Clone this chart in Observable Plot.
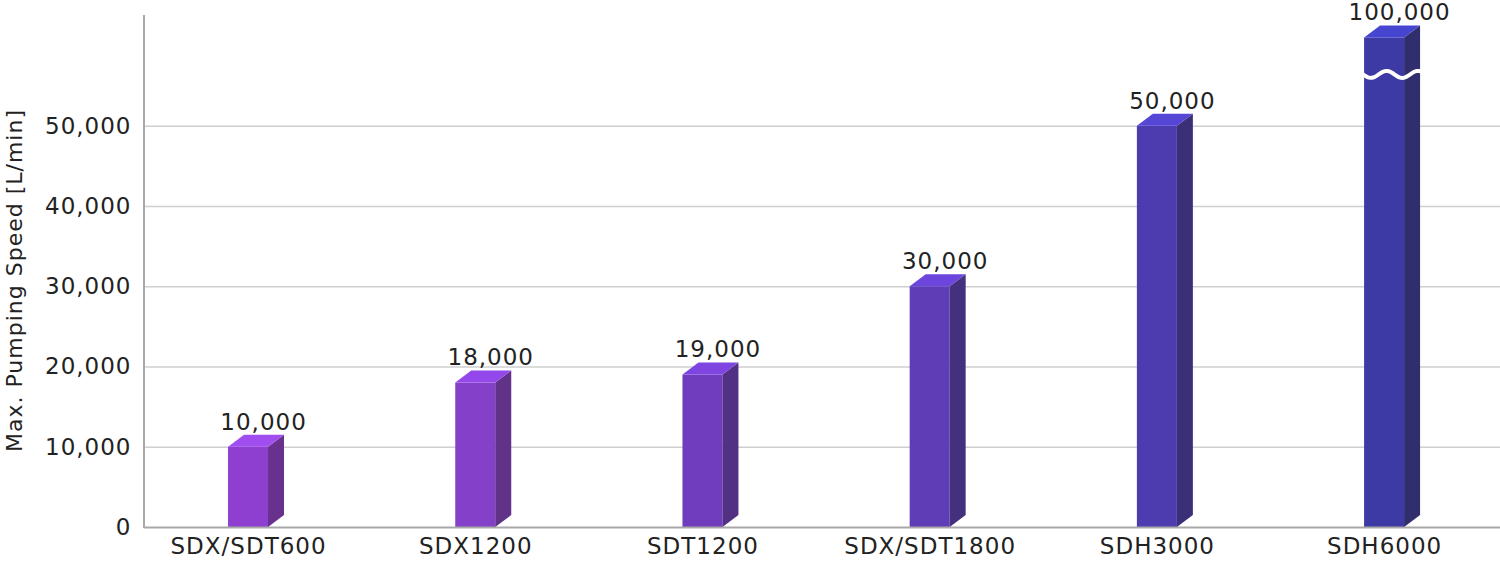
<!DOCTYPE html>
<html><head><meta charset="utf-8">
<script src="https://cdn.jsdelivr.net/npm/d3@7"></script>
<script src="https://cdn.jsdelivr.net/npm/@observablehq/plot@0.6"></script>
<style>body{margin:0;background:#fff;}</style>
</head><body><div id="chart"></div>
<script>
// ---- data ----
const models = ["SDX/SDT600", "SDX1200", "SDT1200", "SDX/SDT1800", "SDH3000", "SDH6000"];
const speeds = [10000, 18000, 19000, 30000, 50000, 100000];
const yTicks = [0, 10000, 20000, 30000, 40000, 50000];
const yMax = 63800;        // top of the value axis
const breakCap = 61000;    // height at which an off-scale bar is cut
const breakMark = 56400;   // value at which the break wave is drawn
const yLabel = "Max. Pumping Speed [L/min]";

// ---- styles ----
const frontColors = ["#8f3fcf", "#8540c9", "#703dbf", "#5f3db7", "#4d3cb0", "#3d39a5"];
const sideColors  = ["#68318e", "#603288", "#523083", "#45307e", "#3b2f78", "#312e6e"];
const topColors   = ["#a04ef0", "#9447ea", "#7e45e0", "#6c46dc", "#5646d6", "#4545d0"];

const data = models.map((m, i) => ({
  model: m,
  speed: speeds[i],
  shown: Math.min(speeds[i], breakCap),
  broken: speeds[i] > yMax
}));

const fmt = d3.format(",");

const chart = Plot.plot({
  width: 1500, height: 561,
  marginLeft: 144, marginRight: 0, marginTop: 15, marginBottom: 34,
  style: {fontFamily: "DejaVu Sans, sans-serif", fontSize: "23px", letterSpacing: "1px", color: "#222", background: "#fff", overflow: "visible"},
  x: {domain: models, paddingInner: 0.824, paddingOuter: 0.396, align: 0.467, round: false, label: null, tickSize: 0, tickPadding: 10},
  y: {domain: [0, yMax], ticks: yTicks, tickFormat: d => fmt(d), tickSize: 0, tickPadding: 13, label: null},
  color: {domain: models, range: frontColors},
  marks: [
    Plot.ruleY(yTicks.filter(d => d > 0), {stroke: "#cfcfcf", strokeWidth: 1.5}),
    Plot.barY(data, {x: "model", y: "shown", fill: "model"}),
    Plot.ruleY([0], {stroke: "#a8a8a8", strokeWidth: 2}),
    Plot.text(data, {x: "model", y: "shown", text: d => fmt(d.speed), dx: 15, dy: -25, fontSize: 23}),
    Plot.text([yLabel], {text: d => d, frameAnchor: "left", textAnchor: "middle", dx: -130, dy: 9, rotate: -90, fontSize: 22})
  ]
});

document.getElementById("chart").appendChild(chart);

// ---- 3D faces drawn with Plot's own scales ----
const xs = chart.scale("x"), ys = chart.scale("y");
const xb = d3.scaleBand().domain(xs.domain).range(xs.range)
  .paddingInner(xs.paddingInner).paddingOuter(xs.paddingOuter).align(xs.align).round(!!xs.round);
const X = xs.apply ? v => xs.apply(v) : v => xb(v);
const Y = ys.apply ? v => ys.apply(v) : d3.scaleLinear().domain(ys.domain).range(ys.range);
const bw = xs.bandwidth != null ? xs.bandwidth : xb.bandwidth();
const depthX = 16, depthY = 12;

const svg = d3.select(chart);
// left axis line
svg.append("line")
  .attr("x1", xs.range[0]).attr("x2", xs.range[0])
  .attr("y1", ys.range[0] + 1).attr("y2", ys.range[1])
  .attr("stroke", "#a8a8a8").attr("stroke-width", 2);

const g = svg.append("g").attr("aria-label", "bar depth");
data.forEach((d, i) => {
  const x0 = X(d.model), x1 = x0 + bw, yt = Y(d.shown), yb = Y(0);
  g.append("path")
    .attr("d", `M${x1},${yt}L${x1 + depthX},${yt - depthY}L${x1 + depthX},${yb - depthY}L${x1},${yb}Z`)
    .attr("fill", sideColors[i]);
  g.append("path")
    .attr("d", `M${x0},${yt}L${x1},${yt}L${x1 + depthX},${yt - depthY}L${x0 + depthX},${yt - depthY}Z`)
    .attr("fill", topColors[i]);
  if (d.broken) {
    const yw = Y(breakMark);
    const w = bw + depthX + 2;
    const pts = d3.range(0, 41).map(k => {
      const t = k / 40;
      return [x0 - 1 + t * w, yw + 3.5 * Math.sin(t * 2 * Math.PI * 1.85)];
    });
    g.append("path")
      .attr("d", d3.line()(pts))
      .attr("fill", "none").attr("stroke", "#fff").attr("stroke-width", 4)
      .attr("stroke-linecap", "round");
  }
});
</script>
</body></html>
